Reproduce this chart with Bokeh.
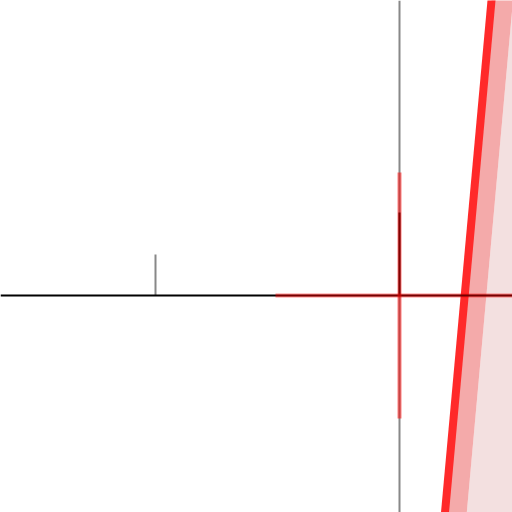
from bokeh.plotting import figure
from bokeh.models import Range1d
from bokeh.embed import file_html
from bokeh.resources import INLINE

# Data (reference picture coordinates, y measured downward)
axis_y = [295, 295]
axis_x = [0, 512]
vline_x = [399, 399]
vline_y = [0, 512]
tick_x = [155, 155]
tick_y = [254, 295]
hbar_x = [275, 512]
hbar_y = [295, 295]
vbar_x = [399, 399]
vbar_y = [172, 418]
core_x = [399, 399]
core_y = [212, 295]
fit_y = [-10, 522]
fit_x = [491.9, 443.6]
band_hi_x = [513.4, 465.4]
outer_x = [620, 620]

p = figure(width=512, height=512, output_backend="svg", toolbar_location=None,
           x_range=Range1d(0, 512), y_range=Range1d(512, 0),
           min_border=0, min_border_left=0, min_border_right=0,
           min_border_top=0, min_border_bottom=0,
           background_fill_color="white", border_fill_color="white",
           outline_line_color=None,
           styles={"position": "fixed", "left": "0px", "top": "0px"})
p.axis.visible = False
p.xgrid.visible = False
p.ygrid.visible = False

# light band
p.patch(x=[band_hi_x[0], outer_x[0], outer_x[1], band_hi_x[1]],
        y=[fit_y[0], fit_y[0], fit_y[1], fit_y[1]],
        fill_color="#f3e0e0", line_color=None)
# pink band
p.patch(x=[fit_x[0], band_hi_x[0], band_hi_x[1], fit_x[1]],
        y=[fit_y[0], fit_y[0], fit_y[1], fit_y[1]],
        fill_color="#f4aaaa", line_color=None)
# fit line
p.line(fit_x, fit_y, line_color="#ff2a2a", line_width=8)

# axes lines
p.line(vline_x, vline_y, line_color="#888888", line_width=2)
p.line(tick_x, tick_y, line_color="#888888", line_width=2)
p.line(core_x, core_y, line_color="black", line_width=2)
p.line(axis_x, axis_y, line_color="black", line_width=2)

# red cross
p.line(hbar_x, hbar_y, line_color="red", line_alpha=0.45, line_width=4)
p.line(vbar_x, vbar_y, line_color="red", line_alpha=0.5, line_width=4)

open("out.html", "w").write(file_html(p, INLINE))
